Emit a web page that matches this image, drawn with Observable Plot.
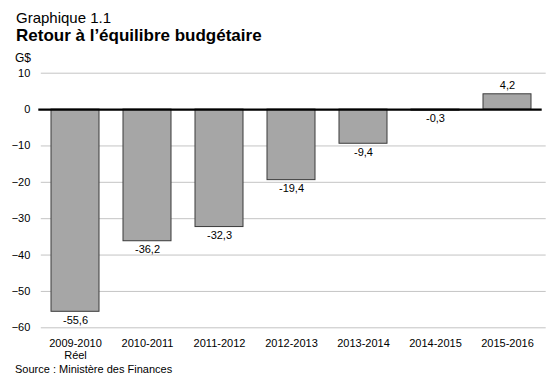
<!DOCTYPE html>
<html>
<head>
<meta charset="utf-8">
<script src="https://cdn.jsdelivr.net/npm/d3@7"></script>
<script src="https://cdn.jsdelivr.net/npm/@observablehq/plot@0.6"></script>
<style>
  body { margin: 0; background: #fff; font-family: "Liberation Sans", Arial, Helvetica, sans-serif; color: #000; }
  #wrap { position: relative; width: 560px; height: 386px; overflow: hidden; }
  .t { position: absolute; white-space: nowrap; }
  #kicker { left: 16px; top: 10px; font-size: 15px; line-height: 15px; }
  #title { left: 16px; top: 27px; font-size: 17px; line-height: 17px; font-weight: bold; }
  #unit { left: 15px; top: 51.5px; font-size: 12px; line-height: 12px; }
  #chart { position: absolute; left: 0; top: 64px; }
  #source { left: 15px; top: 363px; font-size: 11px; line-height: 13px; }
</style>
</head>
<body>
<div id="wrap">
  <div class="t" id="kicker">Graphique 1.1</div>
  <div class="t" id="title">Retour à l’équilibre budgétaire</div>
  <div class="t" id="unit">G$</div>
  <div id="chart"></div>
  <div class="t" id="source">Source : Ministère des Finances</div>
</div>
<script>
const years = ["2009-2010", "2010-2011", "2011-2012", "2012-2013", "2013-2014", "2014-2015", "2015-2016"];
const subLabels = ["Réel", "", "", "", "", "", ""];
const balances = [-55.6, -36.2, -32.3, -19.4, -9.4, -0.3, 4.2];
const yTicks = [10, 0, -10, -20, -30, -40, -50, -60];

const data = years.map((y, i) => ({year: y, value: balances[i], sub: subLabels[i]}));
const subOf = new Map(data.map(d => [d.year, d.sub]));
const fmt = v => v.toFixed(1).replace(".", ",");

const chart = Plot.plot({
  width: 560,
  height: 298,
  marginLeft: 36.8,
  marginRight: 13.8,
  marginTop: 8.7,
  marginBottom: 34.7,
  style: {fontFamily: '"Liberation Sans", Arial, Helvetica, sans-serif', fontSize: "11px", color: "#000", background: "#fff"},
  x: {domain: years, paddingInner: 0.33, paddingOuter: 0.165, label: null},
  y: {domain: [-60, 10], label: null},
  marks: [
    Plot.ruleY(yTicks.filter(t => t !== 0), {stroke: "#c4c4c4", strokeWidth: 1, insetLeft: 4, insetRight: 0.5}),
    Plot.barY(data, {x: "year", y: "value", fill: "#a6a6a6", stroke: "#3a3a3a", strokeWidth: 1}),
    Plot.ruleY([0], {stroke: "#000", strokeWidth: 2.2, insetLeft: 1.5, insetRight: 4.5}),
    Plot.text(data.filter(d => d.value < 0), {x: "year", y: "value", text: d => fmt(d.value), lineAnchor: "top", dy: 4, fill: "#000"}),
    Plot.text(data.filter(d => d.value >= 0), {x: "year", y: "value", text: d => fmt(d.value), lineAnchor: "bottom", dy: -5, fill: "#000"}),
    Plot.axisY(yTicks, {tickSize: 0, tickPadding: 7, label: null}),
    Plot.axisX({tickSize: 0, tickPadding: 10.9, label: null, lineHeight: 1.1,
      tickFormat: d => subOf.get(d) ? d + "\n" + subOf.get(d) : d})
  ]
});
document.getElementById("chart").appendChild(chart);
</script>
</body>
</html>
